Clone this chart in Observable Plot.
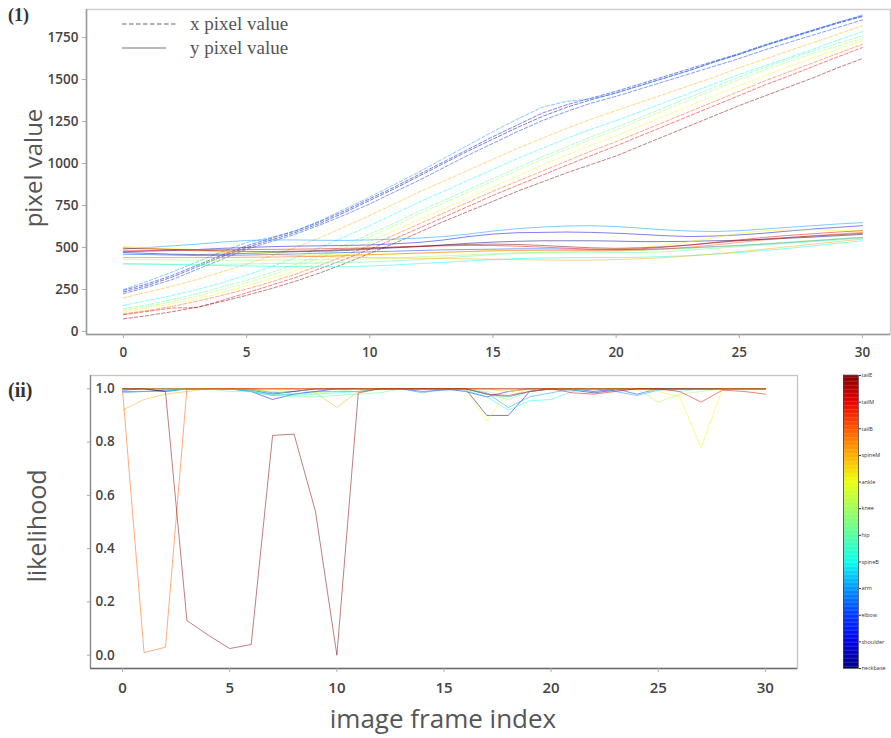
<!DOCTYPE html>
<html><head><meta charset="utf-8">
<script src="https://cdn.jsdelivr.net/npm/d3@7"></script>
<script src="https://cdn.jsdelivr.net/npm/@observablehq/plot@0.6"></script>
<style>
body{margin:0;background:#fff;}
#wrap{position:relative;width:891px;height:738px;overflow:hidden;background:#fff;}
#wrap svg{position:absolute;}
.t{position:absolute;white-space:nowrap;line-height:1;}
.rot{position:absolute;white-space:nowrap;line-height:1;transform:translate(-50%,-50%) rotate(-90deg);font-family:"Open Sans",sans-serif;color:#555;}
.serif{font-family:"Liberation Serif","DejaVu Serif",serif;color:#555;}
</style></head><body><div id="wrap"></div>
<script>
// ---- categories ----
const parts = ["neckbase","shoulder","elbow","arm","spineB","hip","knee","ankle","spineM","tailB","tailM","tailE"];
const partColors = ["#000080","#0000e8","#003aff","#0097ff","#0bffeb","#56ffa1","#a1ff56","#ecff0b","#ffad00","#ff5700","#e90000","#800000"];
const frames = [0,1,2,3,4,5,6,7,8,9,10,11,12,13,14,15,16,17,18,19,20,21,22,23,24,25,26,27,28,29,30];

// ---- tick labels ----
const xTicks = [0,5,10,15,20,25,30];
const yTicksTop = [0,250,500,750,1000,1250,1500,1750];
const yTicksBottom = [0,0.2,0.4,0.6,0.8,1.0];
const cbTicks = [0,1,2,3,4,5,6,7,8,9,10,11];

// ---- x pixel values (dashed) ----
const xNeckbase = [235,275,325,385,445,500,545,590,645,710, 780,850,925,1000,1075,1145,1215,1280,1335,1380, 1420,1465,1510,1555,1605,1650,1700,1745,1790,1835, 1875];
const xShoulder = [245,285,335,395,455,510,555,600,655,720, 790,860,935,1010,1085,1160,1230,1300,1350,1390, 1430,1475,1520,1565,1610,1655,1705,1750,1795,1840, 1880];
const xElbow    = [225,265,310,370,430,490,535,580,635,695, 760,830,900,975,1050,1120,1190,1255,1310,1360, 1400,1445,1490,1535,1580,1625,1675,1720,1765,1810, 1855];
const xArm      = [250,300,355,415,475,530,560,600,660,730, 800,875,950,1030,1110,1190,1265,1335,1370,1385, 1420,1465,1510,1555,1605,1650,1700,1750,1795,1840, 1885];
const xSpineB   = [155,185,215,250,290,335,385,440,500,565, 630,700,770,835,900,965,1030,1090,1150,1205, 1255,1310,1365,1420,1475,1530,1580,1630,1680,1735, 1785];
const xHip      = [135,160,190,225,265,305,350,400,455,515, 580,645,715,780,845,910,975,1040,1100,1160, 1215,1275,1335,1395,1455,1515,1570,1620,1670,1715, 1760];
const xKnee     = [125,150,178,210,250,290,335,385,440,500, 565,630,700,765,830,895,960,1025,1085,1145, 1200,1260,1320,1380,1440,1500,1555,1605,1655,1700, 1745];
const xAnkle    = [115,140,165,195,232,272,315,362,415,472, 535,600,665,730,795,860,925,990,1050,1110, 1165,1225,1285,1345,1405,1465,1520,1575,1630,1680, 1730];
const xSpineM   = [200,235,270,310,355,400,450,500,560,625, 690,760,830,895,960,1025,1090,1150,1210,1265, 1315,1365,1415,1465,1515,1570,1620,1670,1720,1770, 1820];
const xTailB    = [105,125,150,180,215,252,295,342,395,452, 512,575,640,705,770,835,895,955,1015,1075, 1130,1190,1250,1310,1370,1430,1490,1545,1600,1655, 1710];
const xTailM    = [100,120,140,142,185,230,275,322,375,430, 490,552,615,680,745,810,870,930,990,1048, 1105,1165,1225,1285,1345,1405,1465,1520,1578,1635, 1690];
const xTailE    = [75,95,118,145,178,215,255,300,350,405, 465,525,590,655,715,775,835,890,945,995, 1045,1105,1165,1225,1285,1345,1400,1455,1510,1570, 1625];

// ---- y pixel values (solid) ----
const yNeckbase = [470,465,460,458,460,465,470,475,478,482, 490,498,505,515,525,532,537,540,540,540, 538,535,535,537,540,543,548,555,562,570, 578];
const yShoulder = [475,478,482,488,495,500,505,508,510,512, 515,522,530,545,565,580,588,590,592,590, 585,578,570,565,568,575,585,598,610,620, 630];
const yElbow    = [460,458,455,452,452,455,458,462,466,470, 474,478,482,486,488,490,492,492,490,488, 487,488,492,498,505,512,520,530,540,550, 560];
const yArm      = [490,500,510,520,532,542,545,545,543,542, 545,550,556,565,580,598,612,622,628,630, 625,615,605,598,595,600,610,620,630,640, 648];
const ySpineB   = [405,402,398,395,392,390,388,386,385,386, 390,396,404,412,420,428,434,438,440,440, 440,442,446,452,460,470,482,495,510,525, 540];
const yHip      = [400,400,400,400,400,402,404,406,408,410, 414,420,428,438,448,458,465,470,472,472, 470,470,475,485,495,505,515,525,535,545, 555];
const yKnee     = [430,428,426,425,424,424,425,426,428,430, 433,438,444,450,457,463,468,472,474,476, 478,482,488,495,503,512,522,532,542,552, 560];
const yAnkle    = [505,500,494,487,480,474,468,463,460,458, 458,460,464,470,476,482,486,488,488,487, 490,500,515,535,560,585,600,605,605,602, 600];
const ySpineM   = [500,495,488,480,472,465,458,452,447,443, 440,438,436,434,432,430,428,426,425,425, 428,433,440,450,462,475,490,505,520,535, 550];
const yTailB    = [440,440,440,440,441,442,443,445,448,452, 457,462,467,472,476,480,482,483,483,482, 482,485,492,502,515,530,545,558,570,580, 590];
const yTailM    = [480,482,484,486,487,488,489,490,492,495, 498,502,506,510,512,512,508,502,496,490, 488,492,502,515,530,545,560,572,582,592, 600];
const yTailE    = [495,492,488,484,480,477,476,478,482,488, 495,502,508,514,518,520,518,512,505,498, 495,498,505,515,528,540,550,560,568,576, 584];

// ---- likelihood ----
const lNeckbase = [1.0,1.0,0.99,1.0,1.0,1.0,0.995,0.98,0.99,1.0, 1.0,1.0,1.0,1.0,1.0,1.0,1.0,0.90,0.90,0.99, 1.0,0.995,0.985,0.995,1.0,1.0,1.0,1.0,1.0,1.0, 1.0];
const lShoulder = [0.995,1.0,1.0,1.0,1.0,1.0,0.99,0.96,0.98,0.99, 1.0,1.0,1.0,1.0,1.0,1.0,0.99,0.97,0.99,1.0, 1.0,1.0,0.99,1.0,1.0,1.0,1.0,1.0,1.0,1.0, 1.0];
const lElbow    = [0.99,0.99,0.995,1.0,1.0,1.0,1.0,0.985,0.99,1.0, 1.0,1.0,1.0,1.0,0.99,0.995,1.0,0.98,0.97,0.99, 1.0,1.0,1.0,1.0,0.98,1.0,1.0,1.0,1.0,1.0, 1.0];
const lArm      = [0.985,0.99,0.99,1.0,1.0,1.0,0.99,0.975,0.98,0.99, 0.99,0.99,1.0,1.0,0.985,1.0,1.0,0.985,0.93,0.97, 0.985,1.0,1.0,0.99,0.975,0.995,1.0,1.0,1.0,1.0, 1.0];
const lSpineB   = [0.99,0.99,0.99,1.0,1.0,1.0,0.99,0.98,0.975,0.98, 0.985,0.99,1.0,1.0,1.0,1.0,0.995,0.97,0.92,0.955, 0.96,0.99,1.0,1.0,1.0,1.0,1.0,1.0,1.0,1.0, 1.0];
const lHip      = [1.0,1.0,1.0,1.0,1.0,0.99,0.99,0.975,0.97,0.97, 0.975,0.98,0.985,1.0,1.0,1.0,1.0,0.98,0.96,0.99, 1.0,1.0,1.0,1.0,1.0,1.0,0.99,1.0,1.0,1.0, 1.0];
const lKnee     = [1.0,1.0,1.0,1.0,1.0,1.0,0.995,0.99,0.98,0.985, 0.99,1.0,1.0,1.0,1.0,1.0,1.0,0.99,0.97,1.0, 1.0,1.0,1.0,1.0,1.0,0.95,0.98,0.99,1.0,1.0, 1.0];
const lAnkle    = [1.0,1.0,1.0,1.0,1.0,1.0,1.0,0.99,1.0,1.0, 1.0,1.0,1.0,1.0,1.0,1.0,1.0,0.88,0.99,1.0, 1.0,1.0,1.0,1.0,1.0,0.99,0.97,0.78,1.0,1.0, 1.0];
const lSpineM   = [0.92,0.96,0.98,0.99,1.0,1.0,1.0,1.0,1.0,0.985, 0.93,0.99,1.0,1.0,1.0,1.0,1.0,1.0,0.99,1.0, 1.0,1.0,1.0,1.0,1.0,1.0,1.0,1.0,1.0,1.0, 1.0];
const lTailB    = [0.99,0.01,0.03,1.0,1.0,1.0,1.0,1.0,1.0,1.0, 1.0,1.0,1.0,1.0,1.0,1.0,1.0,1.0,1.0,1.0, 1.0,1.0,1.0,1.0,1.0,1.0,1.0,1.0,1.0,1.0, 1.0];
const lTailM    = [1.0,1.0,1.0,1.0,1.0,1.0,1.0,1.0,1.0,1.0, 1.0,1.0,1.0,1.0,1.0,1.0,1.0,0.98,0.975,0.99, 1.0,0.985,0.98,0.99,1.0,1.0,0.99,0.95,0.995,0.99, 0.98];
const lTailE    = [1.0,1.0,0.99,0.13,0.075,0.025,0.04,0.825,0.83,0.54, 0.0,0.985,1.0,1.0,1.0,1.0,1.0,1.0,1.0,1.0, 1.0,1.0,1.0,1.0,1.0,1.0,1.0,1.0,1.0,1.0, 1.0];

// ---- axis domains ----
const xDomTop = [-1.5, 31.14];
const yDomTop = [-18, 1917];
const xDomBottom = [-1.5, 31.5];
const yDomBottom = [-0.05, 1.05];

// ---- build tables ----
const xSeries = [xNeckbase,xShoulder,xElbow,xArm,xSpineB,xHip,xKnee,xAnkle,xSpineM,xTailB,xTailM,xTailE];
const ySeries = [yNeckbase,yShoulder,yElbow,yArm,ySpineB,yHip,yKnee,yAnkle,ySpineM,yTailB,yTailM,yTailE];
const lSeries = [lNeckbase,lShoulder,lElbow,lArm,lSpineB,lHip,lKnee,lAnkle,lSpineM,lTailB,lTailM,lTailE];
const toRows = (series) => series.flatMap((vals, i) => vals.map((v, j) => ({part: parts[i], frame: frames[j], value: v})));
const xRows = toRows(xSeries), yRows = toRows(ySeries), lRows = toRows(lSeries);

const tickFont = {fontFamily: "'Open Sans', sans-serif", fontSize: "13.5px", fontWeight: 600, color: "#444", background: "transparent"};

const topPlot = Plot.plot({
  width: 891, height: 370,
  marginLeft: 86, marginRight: 1, marginTop: 9, marginBottom: 36,
  x: {domain: xDomTop},
  y: {domain: yDomTop},
  color: {domain: parts, range: partColors},
  style: tickFont,
  marks: [
    Plot.frame({stroke: "#cfcfcf", strokeWidth: 1.5}),
    Plot.ruleX([xDomTop[0]], {stroke: "#9a9a9a", strokeWidth: 1.5}),
    Plot.ruleY([yDomTop[0]], {stroke: "#9a9a9a", strokeWidth: 1.5}),
    Plot.axisX({ticks: xTicks, tickSize: 4, tickPadding: 9, label: null, stroke: "#aaa"}),
    Plot.axisY({ticks: yTicksTop, tickFormat: d3.format("d"), tickSize: 4, tickPadding: 4, label: null, stroke: "#aaa"}),
    Plot.line(xRows, {x: "frame", y: "value", z: "part", stroke: "part", strokeWidth: 1, strokeOpacity: 0.5, strokeDasharray: "3.5,2"}),
    Plot.line(yRows, {x: "frame", y: "value", z: "part", stroke: "part", strokeWidth: 1, strokeOpacity: 0.5})
  ]
});

const bottomPlot = Plot.plot({
  width: 891, height: 378,
  marginLeft: 90, marginRight: 94, marginTop: 15, marginBottom: 70,
  x: {domain: xDomBottom},
  y: {domain: yDomBottom},
  color: {domain: parts, range: partColors},
  style: tickFont,
  marks: [
    Plot.frame({stroke: "#c4c4c4", strokeWidth: 1.3}),
    Plot.ruleX([xDomBottom[0]], {stroke: "#8a8a8a", strokeWidth: 1.3}),
    Plot.ruleY([yDomBottom[0]], {stroke: "#6a6a6a", strokeWidth: 1.5}),
    Plot.axisX({ticks: xTicks, tickSize: 4, tickPadding: 10, label: null, stroke: "#aaa", fontSize: 15}),
    Plot.axisY({ticks: yTicksBottom, tickFormat: d3.format(".1f"), tickSize: 3, tickPadding: -8, textAnchor: "start", label: null, stroke: "#aaa"}),
    Plot.line(lRows, {x: "frame", y: "value", z: "part", stroke: "part", strokeWidth: 1, strokeOpacity: 0.5})
  ]
});

const gradStops = d3.range(0, 11, 0.05);
const cbPlot = Plot.plot({
  width: 53, height: 303,
  marginLeft: 5, marginRight: 33, marginTop: 5, marginBottom: 5,
  x: {domain: [0, 1], axis: null},
  y: {domain: [0, 11], axis: null},
  color: {type: "linear", domain: cbTicks, range: partColors, interpolate: "rgb"},
  style: {fontFamily: "'Open Sans', sans-serif", fontSize: "5.5px", color: "#333", background: "transparent"},
  marks: [
    Plot.rect(gradStops, {x1: 0, x2: 1, y1: d => d, y2: d => d + 0.06, fill: d => d + 0.025}),
    Plot.frame({stroke: "#444", strokeWidth: 0.8}),
    Plot.axisY({anchor: "right", ticks: cbTicks, tickFormat: i => parts[i], tickSize: 2, tickPadding: 1, label: null})
  ]
});

const wrap = document.getElementById("wrap");
topPlot.style.left = "0px"; topPlot.style.top = "0px";
bottomPlot.style.left = "0px"; bottomPlot.style.top = "360px";
cbPlot.style.left = "838px"; cbPlot.style.top = "370px";
wrap.append(topPlot, bottomPlot, cbPlot);

wrap.insertAdjacentHTML("beforeend", `
  <div class="t serif" style="left:8px;top:6px;font-size:18px;font-weight:bold;color:#333">(1)</div>
  <div class="t serif" style="left:8px;top:380px;font-size:20px;font-weight:bold;color:#333">(ii)</div>
  <svg style="left:118px;top:12px" width="62" height="44">
    <line x1="4" x2="58" y1="12" y2="12" stroke="#666" stroke-width="1.2" stroke-dasharray="4.5,2.5"/>
    <line x1="4" x2="48" y1="36" y2="36" stroke="#777" stroke-width="1.2"/>
  </svg>
  <div class="t serif" style="left:190px;top:14px;font-size:19px">x pixel value</div>
  <div class="t serif" style="left:190px;top:38px;font-size:19px">y pixel value</div>
  <div class="rot" style="left:33px;top:168px;font-size:24px">pixel value</div>
  <div class="rot" style="left:36px;top:526px;font-size:25px">likelihood</div>
  <div class="t" style="left:443px;top:718px;transform:translate(-50%,-50%);font-family:'Open Sans',sans-serif;font-size:26px;color:#555">image frame index</div>
`);
</script></body></html>
